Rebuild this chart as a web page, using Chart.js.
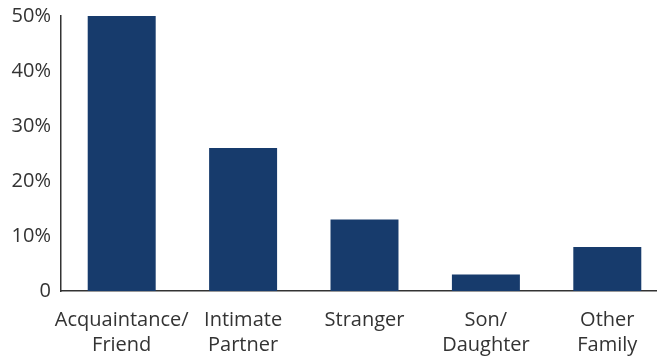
<!DOCTYPE html>
<html>
<head>
<meta charset="utf-8">
<style>
  html, body { margin: 0; padding: 0; background: #fff; overflow: hidden; }
  #wrap { width: 668px; height: 356px; }
</style>
<script src="https://cdn.jsdelivr.net/npm/chart.js@4/dist/chart.umd.min.js"></script>
</head>
<body>
<div id="wrap"><canvas id="c"></canvas></div>
<script>
// Relationship categories (two-line labels) and their shares in percent
const categories = [
  ['Acquaintance/', 'Friend'],
  ['Intimate', 'Partner'],
  ['Stranger'],
  ['Son/', 'Daughter'],
  ['Other', 'Family']
];
const shares = [50, 26, 13, 3, 8];
const yTicks = [0, 10, 20, 30, 40, 50];

const textColor = '#333333';
const barColor = '#173B6C';
const xFont = { family: '"Open Sans", sans-serif', size: 20, lineHeight: 1.25 };
const yFont = { family: '"Open Sans", sans-serif', size: 20, lineHeight: 1.2 };

new Chart(document.getElementById('c'), {
  type: 'bar',
  data: {
    labels: categories,
    datasets: [{
      data: shares,
      backgroundColor: barColor,
      borderWidth: 0,
      barPercentage: 0.56,
      categoryPercentage: 1
    }]
  },
  options: {
    responsive: true,
    maintainAspectRatio: false,
    animation: false,
    layout: { padding: { top: 16, right: 0, left: 0, bottom: 0 } },
    plugins: { legend: { display: false }, tooltip: { enabled: false } },
    scales: {
      x: {
        grid: { display: false, drawTicks: false },
        border: { display: true, color: '#333', width: 1.5 },
        ticks: { color: textColor, font: xFont, padding: 17, maxRotation: 0, autoSkip: false },
        afterFit: (s) => { s.height = 65; s.paddingLeft = 0; s.paddingRight = 0; }
      },
      y: {
        min: 0,
        max: 50,
        afterBuildTicks: (s) => { s.ticks = yTicks.map(v => ({ value: v })); },
        grid: { display: false, drawTicks: false },
        border: { display: true, color: '#333', width: 1.5 },
        ticks: {
          color: textColor,
          font: yFont,
          padding: 10,
          callback: (v) => v === 0 ? '0' : v + '%'
        },
        afterFit: (s) => { s.width = 61; s.paddingTop = 0; s.paddingBottom = 0; }
      }
    }
  }
});
</script>
</body>
</html>
